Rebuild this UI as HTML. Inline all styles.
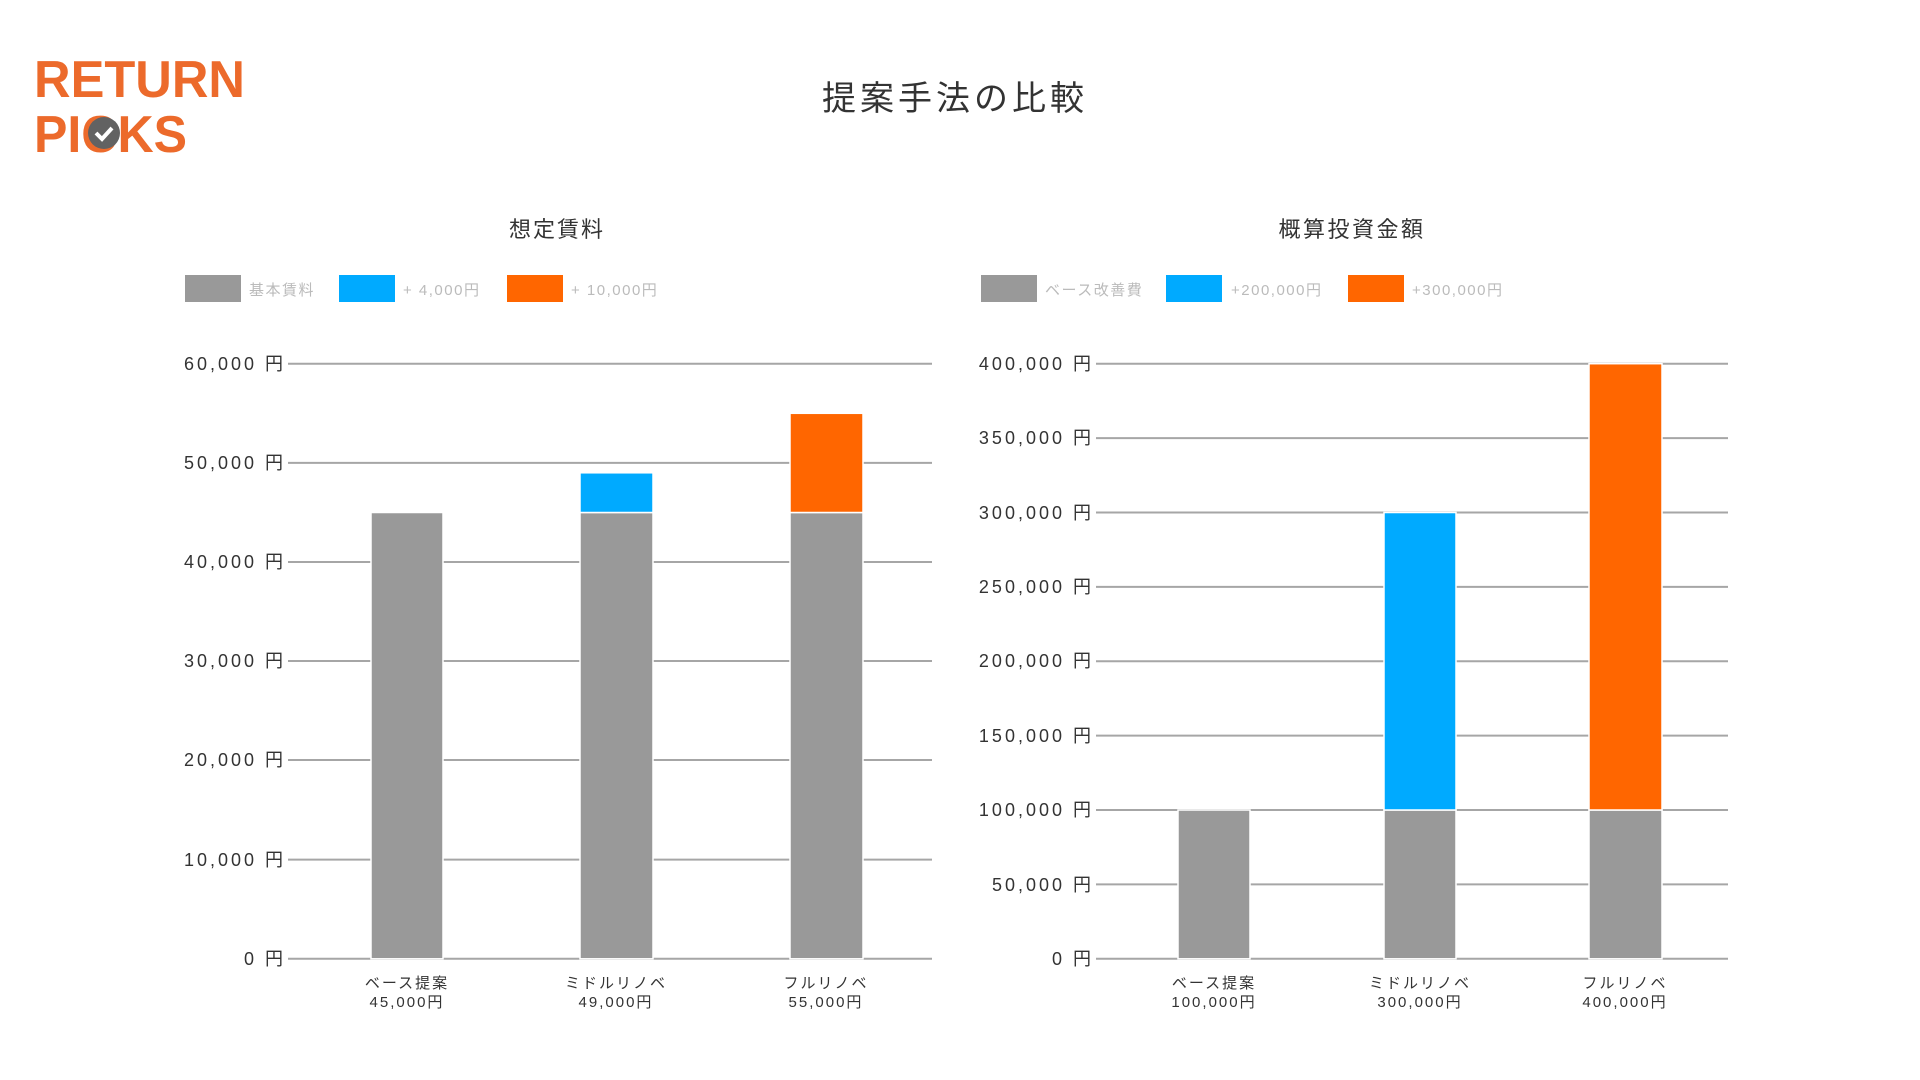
<!DOCTYPE html>
<html><head><meta charset="utf-8"><style>
body{margin:0;background:#fff}
svg{display:block}
text{font-family:"Liberation Sans","Noto Sans CJK JP",sans-serif}
</style></head><body>
<svg width="1920" height="1080" viewBox="0 0 1920 1080" xmlns="http://www.w3.org/2000/svg">
<rect width="1920" height="1080" fill="#fff"/>
<!-- logo -->
<text x="34" y="97" font-size="52" font-weight="bold" fill="#ec6a2b" textLength="211" lengthAdjust="spacingAndGlyphs">RETURN</text>
<text x="34" y="152" font-size="52" font-weight="bold" fill="#ec6a2b" textLength="153" lengthAdjust="spacingAndGlyphs">PICKS</text>
<circle cx="104" cy="133" r="16" fill="#626262"/>
<path d="M96 133 l6 6 l10 -11" stroke="#fff" stroke-width="4" fill="none"/>
<text x="955" y="110" font-size="34" fill="#333" text-anchor="middle" letter-spacing="4">提案手法の比較</text>

<!-- left chart -->
<text x="557" y="237" font-size="22" fill="#333" text-anchor="middle" letter-spacing="2">想定賃料</text>
<rect x="185" y="275" width="56" height="27" fill="#999"/>
<text x="249" y="295" font-size="15" fill="#bbb" letter-spacing="1.5">基本賃料</text>
<rect x="339" y="275" width="56" height="27" fill="#00aaff"/>
<text x="403" y="295" font-size="15" fill="#bbb" letter-spacing="1.5">+ 4,000円</text>
<rect x="507" y="275" width="56" height="27" fill="#ff6600"/>
<text x="571" y="295" font-size="15" fill="#bbb" letter-spacing="1.5">+ 10,000円</text>
<g stroke="#a6a6a6" stroke-width="2">
<line x1="288" x2="932" y1="363.7" y2="363.7"/><line x1="288" x2="932" y1="462.9" y2="462.9"/>
<line x1="288" x2="932" y1="562" y2="562"/><line x1="288" x2="932" y1="661" y2="661"/>
<line x1="288" x2="932" y1="760" y2="760"/><line x1="288" x2="932" y1="859.6" y2="859.6"/>
<line x1="288" x2="932" y1="958.8" y2="958.8"/>
</g>
<g font-size="18" fill="#333" text-anchor="end" letter-spacing="3">
<text x="286" y="370">60,000 円</text><text x="286" y="469">50,000 円</text>
<text x="286" y="568">40,000 円</text><text x="286" y="667">30,000 円</text>
<text x="286" y="766">20,000 円</text><text x="286" y="866">10,000 円</text>
<text x="286" y="965">0 円</text>
</g>
<g stroke="#fff" stroke-width="1.5">
<rect x="371" y="512.5" width="72" height="446.3" fill="#999"/>
<rect x="580" y="512.5" width="73" height="446.3" fill="#999"/>
<rect x="580" y="472.8" width="73" height="39.7" fill="#00aaff"/>
<rect x="790" y="512.5" width="73" height="446.3" fill="#999"/>
<rect x="790" y="413.3" width="73" height="99.2" fill="#ff6600"/>
</g>
<g font-size="15" fill="#333" text-anchor="middle" letter-spacing="2">
<text x="407" y="988">ベース提案</text><text x="407" y="1007">45,000円</text>
<text x="616" y="988">ミドルリノベ</text><text x="616" y="1007">49,000円</text>
<text x="826" y="988">フルリノベ</text><text x="826" y="1007">55,000円</text>
</g>

<!-- right chart -->
<text x="1352" y="237" font-size="22" fill="#333" text-anchor="middle" letter-spacing="2.5">概算投資金額</text>
<rect x="981" y="275" width="56" height="27" fill="#999"/>
<text x="1045" y="295" font-size="15" fill="#bbb" letter-spacing="1.5">ベース改善費</text>
<rect x="1166" y="275" width="56" height="27" fill="#00aaff"/>
<text x="1231" y="295" font-size="15" fill="#bbb" letter-spacing="1.5">+200,000円</text>
<rect x="1348" y="275" width="56" height="27" fill="#ff6600"/>
<text x="1412" y="295" font-size="15" fill="#bbb" letter-spacing="1.5">+300,000円</text>
<g stroke="#a6a6a6" stroke-width="2">
<line x1="1096" x2="1728" y1="363.7" y2="363.7"/><line x1="1096" x2="1728" y1="438.1" y2="438.1"/>
<line x1="1096" x2="1728" y1="512.5" y2="512.5"/><line x1="1096" x2="1728" y1="586.9" y2="586.9"/>
<line x1="1096" x2="1728" y1="661.3" y2="661.3"/><line x1="1096" x2="1728" y1="735.6" y2="735.6"/>
<line x1="1096" x2="1728" y1="810" y2="810"/><line x1="1096" x2="1728" y1="884.4" y2="884.4"/>
<line x1="1096" x2="1728" y1="958.8" y2="958.8"/>
</g>
<g font-size="18" fill="#333" text-anchor="end" letter-spacing="3">
<text x="1094" y="370">400,000 円</text><text x="1094" y="444">350,000 円</text>
<text x="1094" y="519">300,000 円</text><text x="1094" y="593">250,000 円</text>
<text x="1094" y="667">200,000 円</text><text x="1094" y="742">150,000 円</text>
<text x="1094" y="816">100,000 円</text><text x="1094" y="891">50,000 円</text>
<text x="1094" y="965">0 円</text>
</g>
<g stroke="#fff" stroke-width="1.5">
<rect x="1178" y="810" width="72" height="148.8" fill="#999"/>
<rect x="1384" y="810" width="72" height="148.8" fill="#999"/>
<rect x="1384" y="512.5" width="72" height="297.5" fill="#00aaff"/>
<rect x="1589" y="810" width="73" height="148.8" fill="#999"/>
<rect x="1589" y="363.7" width="73" height="446.3" fill="#ff6600"/>
</g>
<g font-size="15" fill="#333" text-anchor="middle" letter-spacing="2">
<text x="1214" y="988">ベース提案</text><text x="1214" y="1007">100,000円</text>
<text x="1420" y="988">ミドルリノベ</text><text x="1420" y="1007">300,000円</text>
<text x="1625" y="988">フルリノベ</text><text x="1625" y="1007">400,000円</text>
</g>
</svg>
</body></html>
